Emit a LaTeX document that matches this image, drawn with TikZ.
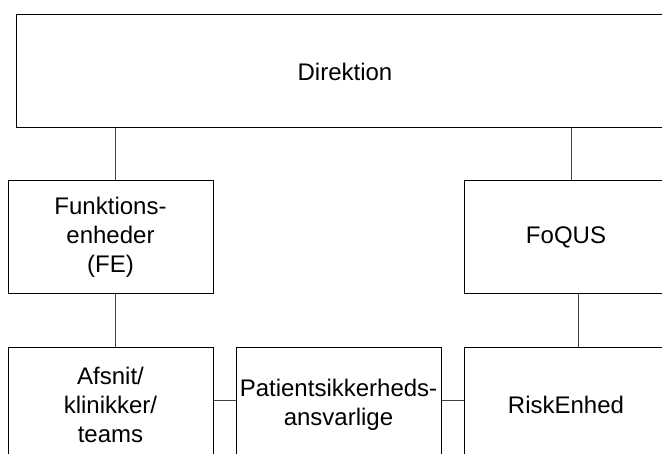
\documentclass[tikz,border=0pt]{standalone}
\usepackage{fontspec}
\setmainfont{Liberation Sans}
\tikzset{
  orgbox/.style={draw=black,line width=1pt,minimum width=205pt,minimum height=113pt,
    inner sep=0pt,align=center,font=\fontsize{24}{29}\selectfont},
  link/.style={draw=black!75,line width=1pt}
}
\begin{document}
\begin{tikzpicture}[x=1pt,y=1pt]
    \useasboundingbox (0,0) rectangle (662,-454);
    \clip (0,0) rectangle (662,-454);
    \node[orgbox,minimum width=658pt] (dir) at (345,-71.5) {Direktion};
    \node[orgbox] (fe) at (110.5,-237.5) {Funktions-\\enheder\\(FE)};
    \node[orgbox,minimum width=204pt] (foqus) at (566,-237.5) {FoQUS};
    \node[orgbox] (afsnit) at (110.5,-404.5) {Afsnit/\\klinikker/\\teams};
    \node[orgbox] (patient) at (338.5,-404.5) {Patientsikkerheds-\\ansvarlige};
    \node[orgbox,minimum width=204pt] (risk) at (566,-404.5) {RiskEnhed};
    \draw[link] ([xshift=4.5pt]fe.north) -- ([xshift=4.5pt]fe.north |- dir.south);
    \draw[link] ([xshift=5pt]foqus.north) -- ([xshift=5pt]foqus.north |- dir.south);
    \draw[link] ([xshift=4.5pt]afsnit.north) -- ([xshift=4.5pt]afsnit.north |- fe.south);
    \draw[link] ([xshift=12pt]risk.north) -- ([xshift=12pt]risk.north |- foqus.south);
    \draw[link] ([yshift=3.5pt]afsnit.east) -- ([yshift=3.5pt]patient.west);
    \draw[link] ([yshift=3.5pt]patient.east) -- ([yshift=3.5pt]risk.west);
\end{tikzpicture}
\end{document}
